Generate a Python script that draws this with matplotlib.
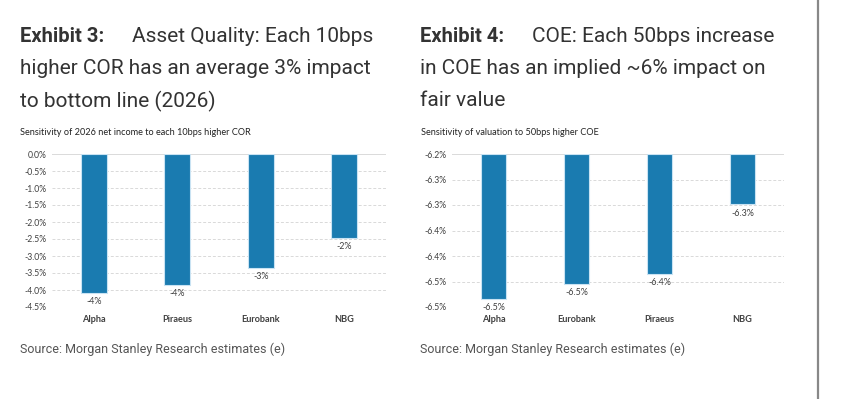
import matplotlib.pyplot as plt
from matplotlib.ticker import FixedLocator

W, H = 842, 399

# Exhibit 3: net income sensitivity to +10bps COR
cor_banks = ["Alpha", "Piraeus", "Eurobank", "NBG"]
cor_values = [-4.09, -3.85, -3.35, -2.47]
cor_labels = ["-4%", "-4%", "-3%", "-2%"]
cor_ticks = [0.0, -0.5, -1.0, -1.5, -2.0, -2.5, -3.0, -3.5, -4.0, -4.5]
cor_ticklabels = ["0.0%", "-0.5%", "-1.0%", "-1.5%", "-2.0%", "-2.5%",
                  "-3.0%", "-3.5%", "-4.0%", "-4.5%"]

# Exhibit 4: valuation sensitivity to +50bps COE
coe_banks = ["Alpha", "Eurobank", "Piraeus", "NBG"]
coe_values = [-6.484, -6.455, -6.435, -6.299]
coe_labels = ["-6.5%", "-6.5%", "-6.4%", "-6.3%"]
coe_ticks = [-6.20, -6.25, -6.30, -6.35, -6.40, -6.45, -6.50]
coe_ticklabels = ["-6.2%", "-6.3%", "-6.3%", "-6.4%", "-6.4%", "-6.5%", "-6.5%"]

BAR = "#1a7bb0"
EDGE = "#c9e3f3"
GRID = "#d9d9d9"
DARK = "#404040"
TITLE_FONT = ["Roboto", "DejaVu Sans"]
SMALL_FONT = ["Lato", "DejaVu Sans"]

fig = plt.figure(figsize=(W / 100, H / 100), dpi=100)


def px_axes(x0, x1, ytop, ybot):
    return fig.add_axes([x0 / W, 1 - ybot / H, (x1 - x0) / W, (ybot - ytop) / H])


def draw(ax, banks, values, labels, ticks, ticklabels):
    top, bottom = ticks[0], ticks[-1]
    x = range(len(banks))
    ax.bar(x, [v - top for v in values], bottom=top, width=0.31,
           color=BAR, edgecolor=EDGE, linewidth=0.8, zorder=3)
    ax.set_ylim(bottom, top)
    ax.set_xlim(-0.5, len(banks) - 0.5)
    ax.yaxis.set_major_locator(FixedLocator(ticks))
    ax.set_yticklabels(ticklabels, fontsize=6.2, color=DARK, family=SMALL_FONT)
    ax.set_xticks(list(x))
    ax.set_xticklabels(banks, fontsize=6.6, fontweight="bold", color=DARK,
                       family=SMALL_FONT)
    ax.tick_params(length=0, pad=4)
    ax.tick_params(axis="x", pad=5.5)
    for t in ticks[1:]:
        ax.axhline(t, color=GRID, lw=0.7, ls=(0, (3, 2)), zorder=1)
    ax.axhline(top, color="#d4d4d4", lw=1.2, zorder=2)
    for s in ax.spines.values():
        s.set_visible(False)
    for xi, v, lab in zip(x, values, labels):
        ax.annotate(lab, (xi, v), xytext=(0, -6.3), textcoords="offset points",
                    ha="center", va="center", fontsize=6.4, color=DARK,
                    family=SMALL_FONT)


ax1 = px_axes(52, 386, 154, 307)
draw(ax1, cor_banks, cor_values, cor_labels, cor_ticks, cor_ticklabels)
ax2 = px_axes(452, 784, 154, 307)
draw(ax2, coe_banks, coe_values, coe_labels, coe_ticks, coe_ticklabels)

# titles
title_lines = {
    20: ["Asset Quality: Each 10bps", "higher COR has an average 3% impact",
         "to bottom line (2026)"],
    420: ["COE: Each 50bps increase", "in COE has an implied ~6% impact on",
          "fair value"],
}
exhibits = {20: "Exhibit 3:", 420: "Exhibit 4:"}
ys = [37, 69, 101]
for x0, lines in title_lines.items():
    fig.text(x0 / W, 1 - ys[0] / H, exhibits[x0], fontsize=14.5, fontweight="bold",
             color="#333333", family=TITLE_FONT, va="center")
    fig.text((x0 + 112) / W, 1 - ys[0] / H, lines[0], fontsize=15,
             color="#333333", family=TITLE_FONT, va="center")
    for y, line in zip(ys[1:], lines[1:]):
        fig.text(x0 / W, 1 - y / H, line, fontsize=15, color="#333333",
                 family=TITLE_FONT, va="center")

fig.text(20 / W, 1 - 133 / H, "Sensitivity of 2026 net income to each 10bps higher COR",
         fontsize=6.6, color="#222222", family=SMALL_FONT, va="center")
fig.text(421 / W, 1 - 133 / H, "Sensitivity of valuation to 50bps higher COE",
         fontsize=6.6, color="#222222", family=SMALL_FONT, va="center")

for x0 in (20, 420):
    fig.text(x0 / W, 1 - 349 / H, "Source: Morgan Stanley Research estimates (e)",
             fontsize=9, color="#555555", family=["Roboto", "DejaVu Sans"],
             va="center")

# page divider on the right
fig.add_artist(plt.Line2D([818 / W, 818 / W], [0, 1], color="#888888", lw=1.6))

fig.savefig("out.png", dpi=100)
